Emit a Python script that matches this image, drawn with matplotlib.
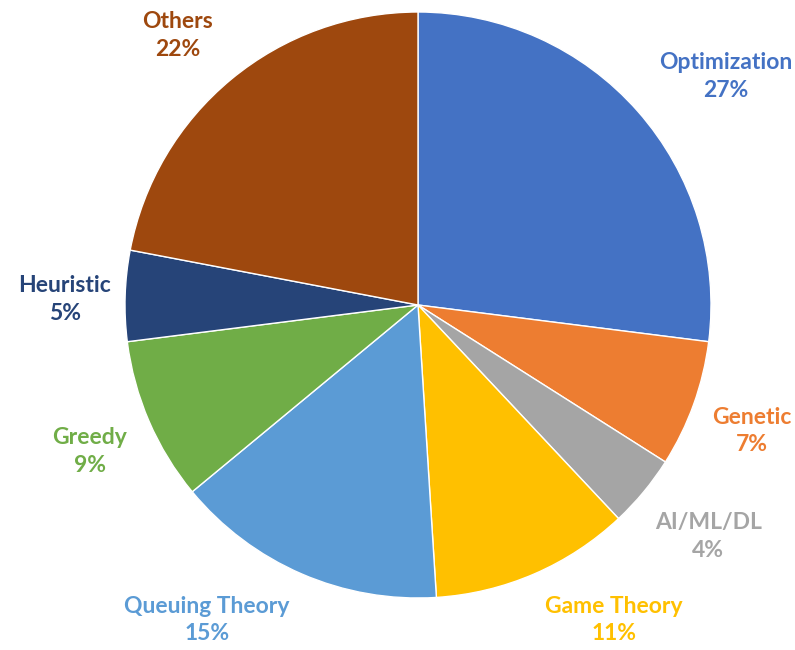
import matplotlib.pyplot as plt

categories = ["Optimization", "Genetic", "AI/ML/DL", "Game Theory",
              "Queuing Theory", "Greedy", "Heuristic", "Others"]
shares = [27, 7, 4, 11, 15, 9, 5, 22]
colors = ["#4472C4", "#ED7D31", "#A5A5A5", "#FFC000",
          "#5B9BD5", "#70AD47", "#264478", "#9E480E"]

# label anchor points, in units of the pie radius
label_pos = [(1.05, 0.78), (1.14, -0.43), (0.99, -0.79), (0.67, -1.075),
             (-0.72, -1.075), (-1.12, -0.50), (-1.205, 0.02), (-0.82, 0.92)]

fig = plt.figure(figsize=(7.95, 6.5), dpi=100)
ax = fig.add_axes([0, 0, 1, 1])

ax.pie(shares, colors=colors, startangle=90, counterclock=False, radius=1,
       wedgeprops=dict(edgecolor="white", linewidth=1))

for name, val, col, (x, y) in zip(categories, shares, colors, label_pos):
    ax.text(x, y, f"{name}\n{val}%", color=col, ha="center", va="center",
            fontsize=16.5, fontweight="bold", family="Lato", linespacing=1.4)

ax.set_xlim(-418 / 293, (795 - 418) / 293)
ax.set_ylim(-345 / 293, 305 / 293)
ax.set_aspect("auto")
ax.axis("off")

fig.savefig("out.png", dpi=100, facecolor="white")
